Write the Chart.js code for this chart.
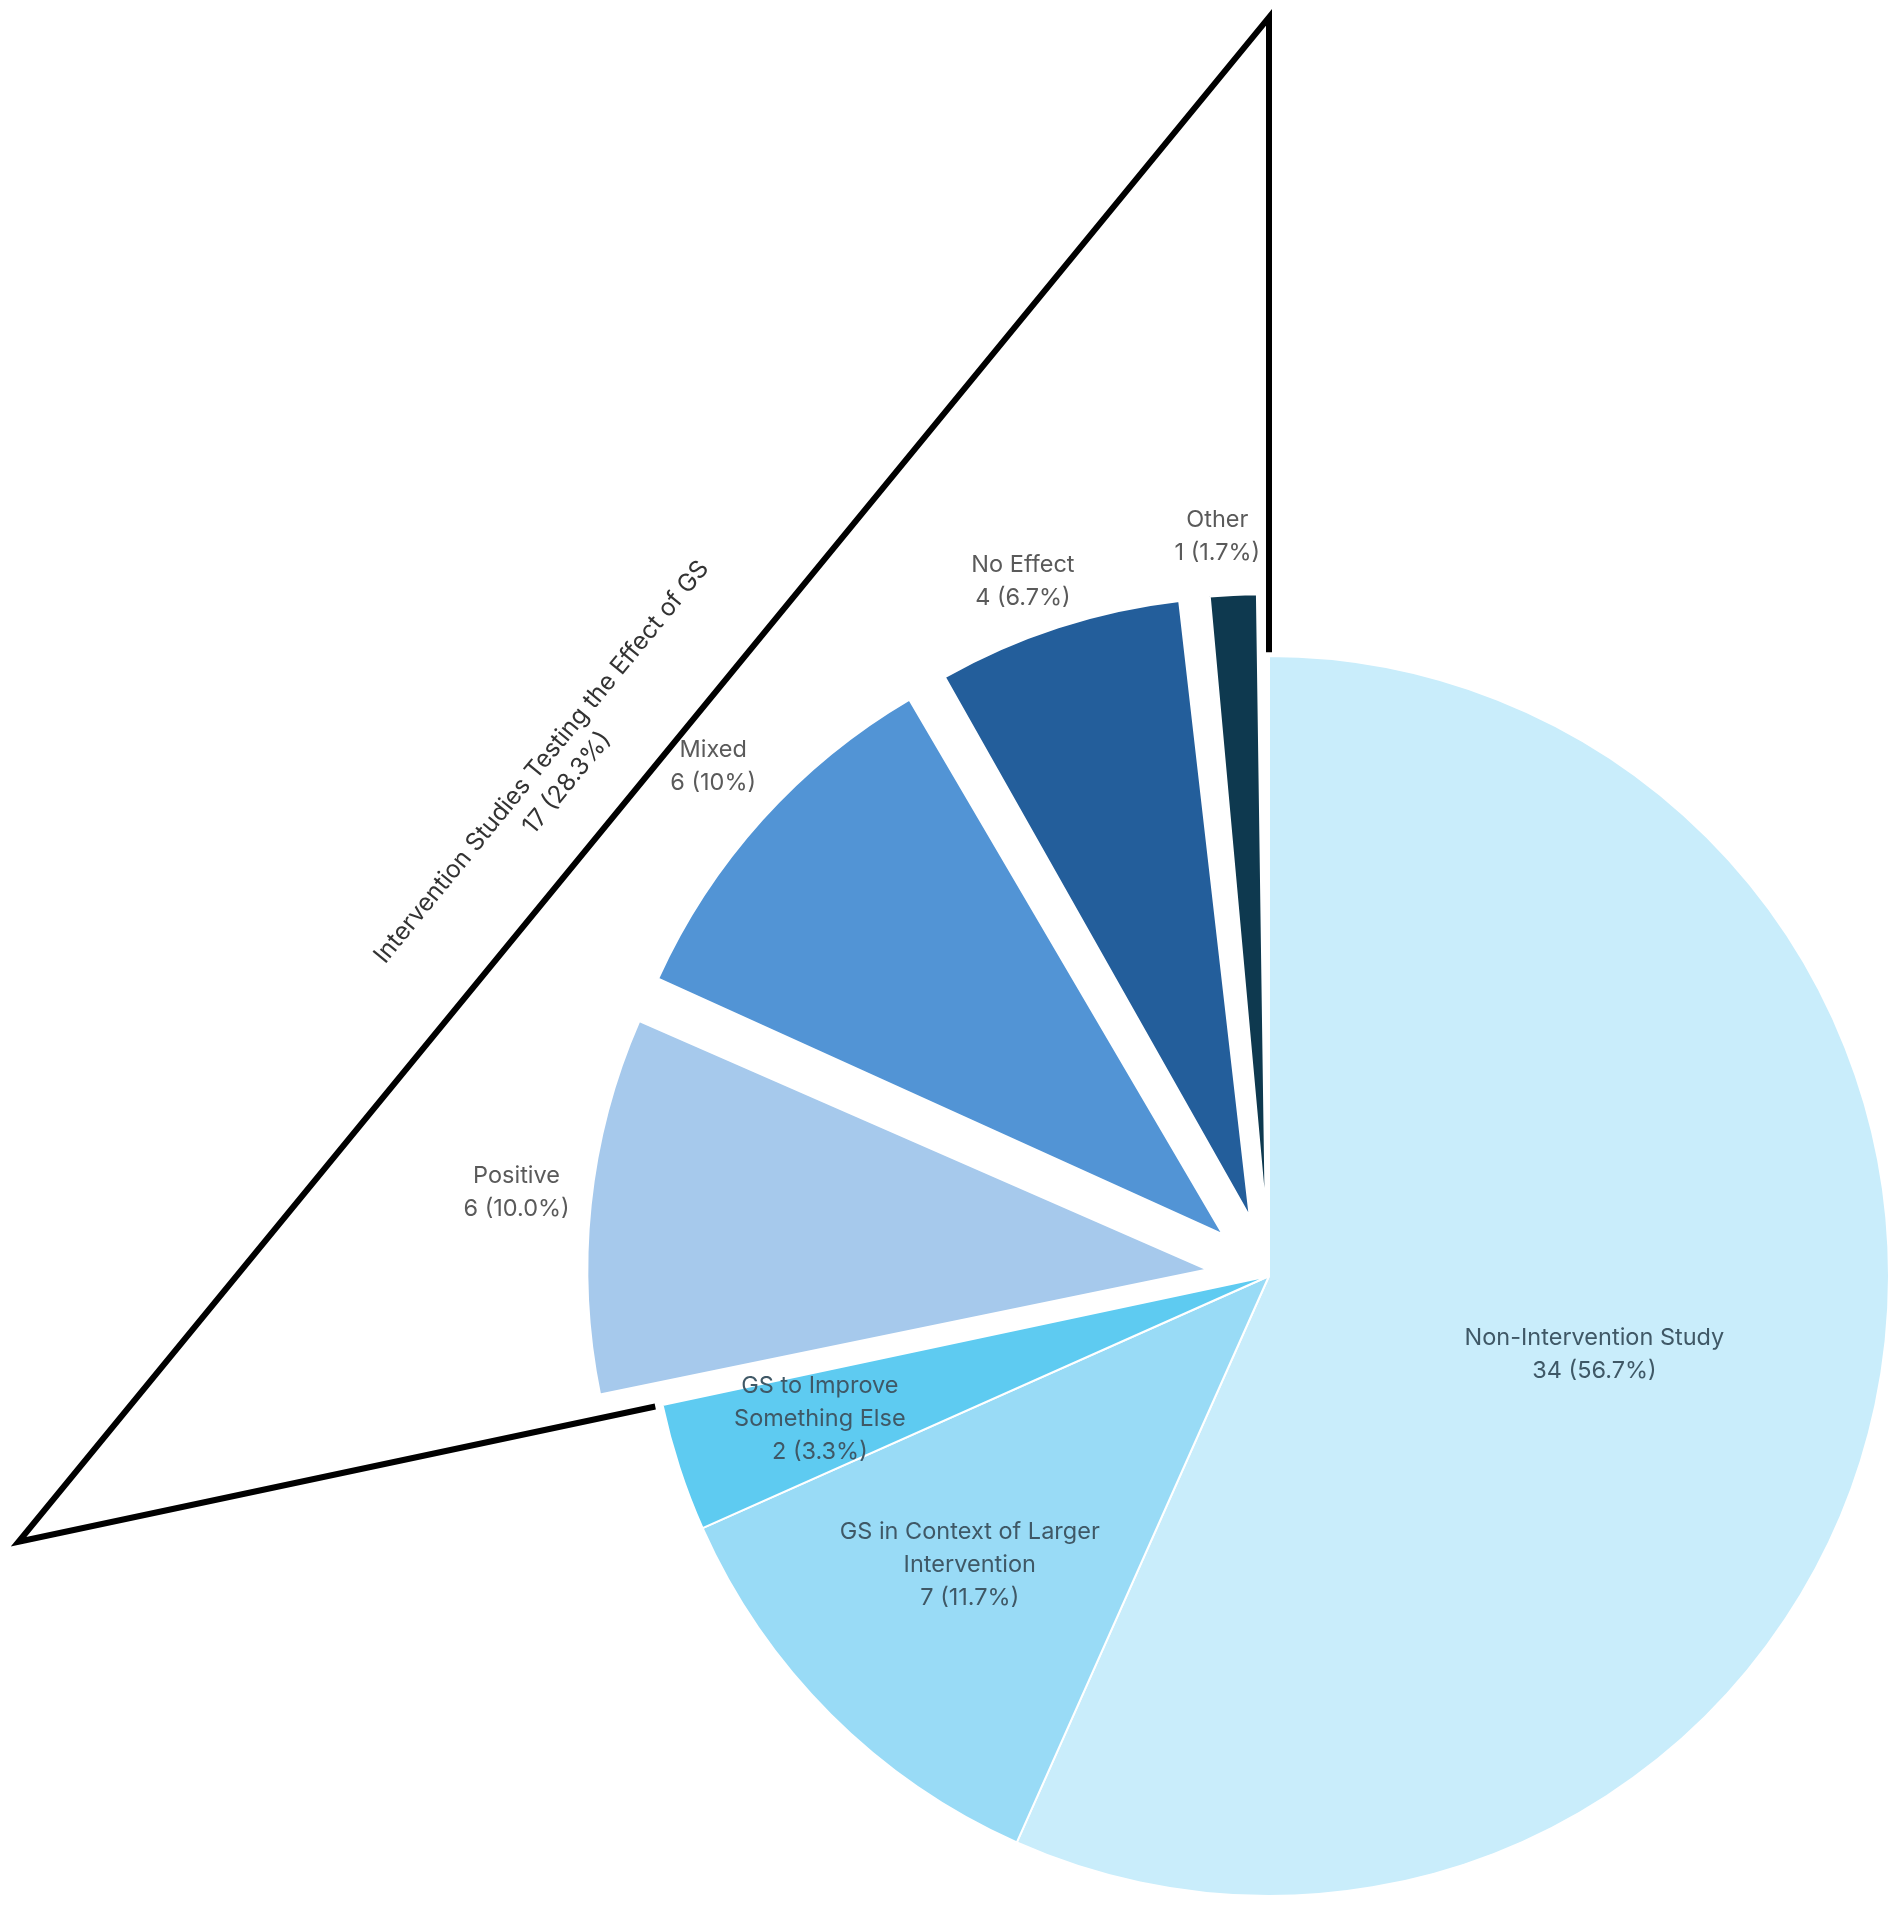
<!DOCTYPE html>
<html>
<head>
<meta charset="utf-8">
<script src="https://cdn.jsdelivr.net/npm/chart.js@4.4.0/dist/chart.umd.min.js"></script>
<style>
    html, body { margin: 0; padding: 0; background: #ffffff; }
    #wrap { width: 1902px; height: 1909px; }
</style>
</head>
<body>
<div id="wrap"><canvas id="pieChart" width="1902" height="1909"></canvas></div>
<script>
// slices, clockwise from 12 o'clock
const categories = ['Non-Intervention Study', 'GS in Context of Larger Intervention', 'GS to Improve Something Else', 'Positive', 'Mixed', 'No Effect', 'Other'];
const labelLines = [['Non-Intervention Study'], ['GS in Context of Larger', 'Intervention'], ['GS to Improve', 'Something Else'], ['Positive'], ['Mixed'], ['No Effect'], ['Other']];
const counts = [34, 7, 2, 6, 6, 4, 1];
const percentLabels = ['56.7%', '11.7%', '3.3%', '10.0%', '10%', '6.7%', '1.7%'];
const exploded = [false, false, false, true, true, true, true];

const groupTitle = 'Intervention Studies Testing the Effect of GS';
const groupCount = 17;
const groupPercent = '28.3%';

const sliceColors = ['#c9edfb', '#99dbf6', '#5ecbf1', '#a6c9ec', '#5294d5', '#235e9b', '#0e394f'];
const RADIUS = 620;
const EXPLODE = 62;
const FONT = '23.5px Inter, "Open Sans", sans-serif';

// chart.js v4 moves an arc by offset/4 and also grows its radius, keep the radius as is
const keepRadius = {
    id: 'keepRadius',
    beforeDatasetsDraw(chart) {
        const meta = chart.getDatasetMeta(0);
        const R = meta.controller.outerRadius;
        meta.data.forEach((arc, i) => {
            const off = exploded[i] ? EXPLODE : 0;
            const fix = 1 - Math.sin(Math.min(Math.PI, arc.circumference));
            arc.outerRadius = R - off * fix;
        });
    }
};

const sliceLabels = {
    id: 'sliceLabels',
    afterDatasetsDraw(chart, args, opts) {
        const ctx = chart.ctx;
        const meta = chart.getDatasetMeta(0);
        const R = meta.controller.outerRadius;
        ctx.save();
        ctx.font = opts.font;
        ctx.textAlign = 'center';
        ctx.textBaseline = 'middle';
        meta.data.forEach((arc, i) => {
            const mid = (arc.startAngle + arc.endAngle) / 2 + opts.angleShift[i] * Math.PI / 180;
            const d = opts.dist[i] * R;
            const x = arc.x + Math.cos(mid) * d;
            const y = arc.y + Math.sin(mid) * d;
            const lines = labelLines[i].concat([counts[i] + ' (' + percentLabels[i] + ')']);
            ctx.fillStyle = exploded[i] ? opts.outsideColor : opts.insideColor;
            const top = y - (lines.length - 1) * opts.lineHeight / 2;
            lines.forEach((t, k) => ctx.fillText(t, x, top + k * opts.lineHeight));
        });
        ctx.restore();
    }
};

// the black callout round the exploded group
const bracket = {
    id: 'bracket',
    afterDatasetsDraw(chart, args, opts) {
        const ctx = chart.ctx;
        const meta = chart.getDatasetMeta(0);
        const R = meta.controller.outerRadius;
        const first = meta.data[exploded.indexOf(true)];
        const last = meta.data[exploded.lastIndexOf(true)];
        const cx = first.x, cy = first.y;
        const a0 = first.startAngle, a1 = last.endAngle;
        const pt = (a, f) => ({ x: cx + Math.cos(a) * R * f, y: cy + Math.sin(a) * R * f });
        const rimTop = pt(a1, 1.006);
        const apex = pt(a1, opts.apex);
        const corner = pt(a0, opts.corner);
        const foot = pt(a0, 1.012);

        ctx.save();
        ctx.strokeStyle = '#000000';
        ctx.lineWidth = 6;
        ctx.lineJoin = 'miter';
        ctx.beginPath();
        ctx.moveTo(rimTop.x, rimTop.y);
        ctx.lineTo(apex.x, apex.y);
        ctx.lineTo(corner.x, corner.y);
        ctx.lineTo(foot.x, foot.y);
        ctx.stroke();

        const ang = Math.atan2(apex.y - corner.y, apex.x - corner.x);
        const px = corner.x + (apex.x - corner.x) * opts.textAt;
        const py = corner.y + (apex.y - corner.y) * opts.textAt;
        ctx.translate(px, py);
        ctx.rotate(ang);
        ctx.font = opts.font;
        ctx.fillStyle = '#333333';
        ctx.textAlign = 'center';
        ctx.textBaseline = 'middle';
        ctx.fillText(groupTitle, 0, -90);
        ctx.fillText(groupCount + ' (' + groupPercent + ')', 0, -57);
        ctx.restore();
    }
};

const ctx = document.getElementById('pieChart').getContext('2d');
const pieChart = new Chart(ctx, {
    type: 'pie',
    data: {
        labels: categories,
        datasets: [{
            data: counts,
            backgroundColor: sliceColors,
            borderColor: '#ffffff',
            borderWidth: 2,
            radius: RADIUS,
            offset: exploded.map(e => e ? EXPLODE * 4 : 0)
        }]
    },
    options: {
        responsive: false,
        devicePixelRatio: 1,
        animation: false,
        layout: {
            padding: { left: 636, top: 643, right: 0, bottom: 0 }
        },
        plugins: {
            legend: { display: false },
            tooltip: { enabled: false },
            sliceLabels: {
                font: FONT,
                lineHeight: 33,
                dist: [0.54, 0.671, 0.76, 1.221, 1.216, 1.189, 1.195],
                angleShift: [1.6, 1, 0.4, 0.3, 0.5, -1.5, -1],
                insideColor: '#3f5866',
                outsideColor: '#5a5a5a'
            },
            bracket: {
                apex: 2.03,
                corner: 2.062,
                textAt: 0.474,
                font: '24.5px Inter, "Open Sans", sans-serif'
            }
        }
    },
    plugins: [keepRadius, sliceLabels, bracket]
});
</script>
</body>
</html>
